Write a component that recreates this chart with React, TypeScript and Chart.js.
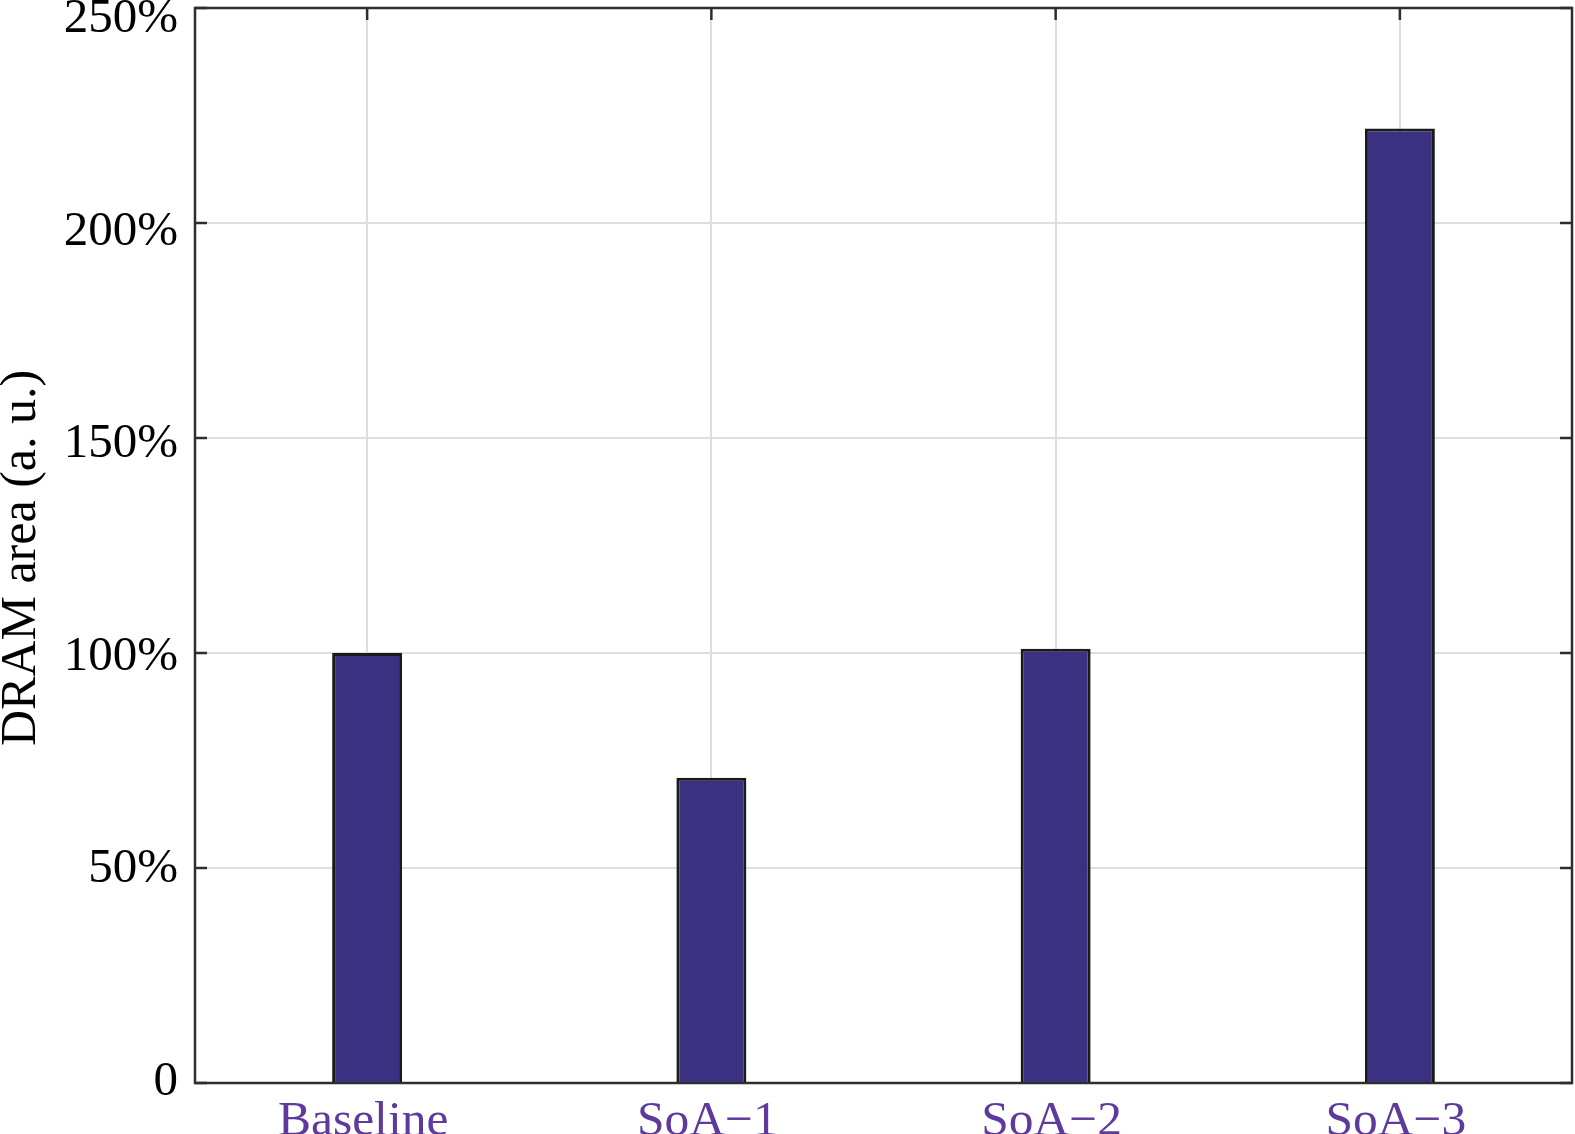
import React, { useEffect, useRef } from 'react';
import { Chart, registerables } from 'chart.js';

Chart.register(...registerables);

const categories = ['Baseline', 'SoA\u22121', 'SoA\u22122', 'SoA\u22123'];
const dramArea = [100, 71, 101, 222];
const yTickValues = [0, 50, 100, 150, 200, 250];
const yTickLabels = ['0', '50%', '100%', '150%', '200%', '250%'];
const yAxisTitle = 'DRAM area (a. u.)  ';

const FONT = "'Liberation Serif', 'Times New Roman', serif";

const framePlugin = {
  id: 'matlabFrame',
  beforeDatasetsDraw(chart: any) {
    const { ctx, chartArea: a, scales } = chart;
    const tl = 12;
    ctx.save();
    ctx.strokeStyle = '#2e2e2e';
    ctx.lineWidth = 2.5;
    ctx.beginPath();
    scales.y.ticks.forEach((t: any) => {
      const y = scales.y.getPixelForValue(t.value);
      ctx.moveTo(a.left, y);
      ctx.lineTo(a.left + tl, y);
      ctx.moveTo(a.right, y);
      ctx.lineTo(a.right - tl, y);
    });
    scales.x.ticks.forEach((_t: any, i: number) => {
      const x = scales.x.getPixelForTick(i);
      ctx.moveTo(x, a.top);
      ctx.lineTo(x, a.top + tl);
      ctx.moveTo(x, a.bottom);
      ctx.lineTo(x, a.bottom - tl);
    });
    ctx.stroke();
    ctx.strokeRect(a.left, a.top, a.right - a.left, a.bottom - a.top);
    ctx.restore();
  },
};

export default function App() {
  const ref = useRef<HTMLCanvasElement | null>(null);

  useEffect(() => {
    if (!ref.current) return;
    const chart = new Chart(ref.current, {
      type: 'bar',
      data: {
        labels: categories,
        datasets: [
          {
            label: 'DRAM area',
            data: dramArea,
            yAxisID: 'y',
            backgroundColor: '#3a3182',
            borderColor: '#1a1a1a',
            borderWidth: 3,
            categoryPercentage: 1,
            barPercentage: 0.2033,
          },
        ],
      },
      options: {
        animation: false,
        responsive: false,
        maintainAspectRatio: false,
        devicePixelRatio: 1,
        layout: { padding: { top: 8, right: 3, left: 0, bottom: 0 } },
        plugins: {
          legend: { display: false },
          tooltip: { enabled: false },
          title: { display: false },
        },
        scales: {
          x: {
            type: 'category',
            offset: true,
            grid: {
              offset: false,
              color: '#dedede',
              lineWidth: 2,
              drawTicks: false,
            },
            border: { display: false },
            ticks: {
              color: '#5e3a9c',
              padding: 14,
              labelOffset: -4,
              maxRotation: 0,
              autoSkip: false,
              font: { family: FONT, size: 49.5, lineHeight: 1 },
            },
            afterFit: (s: any) => {
              s.height = 51;
              s.paddingLeft = 0;
              s.paddingRight = 0;
            },
          },
          y: {
            type: 'linear',
            position: 'left',
            weight: 1,
            min: 0,
            max: 250,
            grid: { color: '#dedede', lineWidth: 2, drawTicks: false },
            border: { display: false },
            afterBuildTicks: (s: any) => {
              s.ticks = yTickValues.map((v) => ({ value: v }));
            },
            ticks: { display: false },
            afterFit: (s: any) => {
              s.width = 0;
              s.paddingTop = 0;
              s.paddingBottom = 0;
            },
          },
          yLabels: {
            type: 'linear',
            position: 'left',
            weight: 0,
            min: -0.94,
            max: 252.0,
            grid: { display: false, drawTicks: false },
            border: { display: false },
            afterBuildTicks: (s: any) => {
              s.ticks = yTickValues.map((v) => ({ value: v }));
            },
            ticks: {
              color: '#000000',
              padding: 17,
              labelOffset: 3,
              font: { family: FONT, size: 49, lineHeight: 1 },
              callback: (v: any) => {
                const i = yTickValues.indexOf(Number(v));
                return i >= 0 ? yTickLabels[i] : '';
              },
            },
            title: {
              display: true,
              text: yAxisTitle,
              color: '#000000',
              padding: 0,
              font: { family: FONT, size: 50, lineHeight: 0.88 },
            },
            afterFit: (s: any) => {
              s.width = 195;
              s.paddingTop = 0;
              s.paddingBottom = 0;
            },
          },
        },
      },
      plugins: [framePlugin],
    });
    return () => chart.destroy();
  }, []);

  return (
    <div
      style={{
        position: 'fixed',
        left: 0,
        top: 0,
        width: 1575,
        height: 1134,
        overflow: 'hidden',
        background: '#ffffff',
      }}
    >
      <canvas ref={ref} width={1575} height={1134} style={{ display: 'block' }} />
    </div>
  );
}
